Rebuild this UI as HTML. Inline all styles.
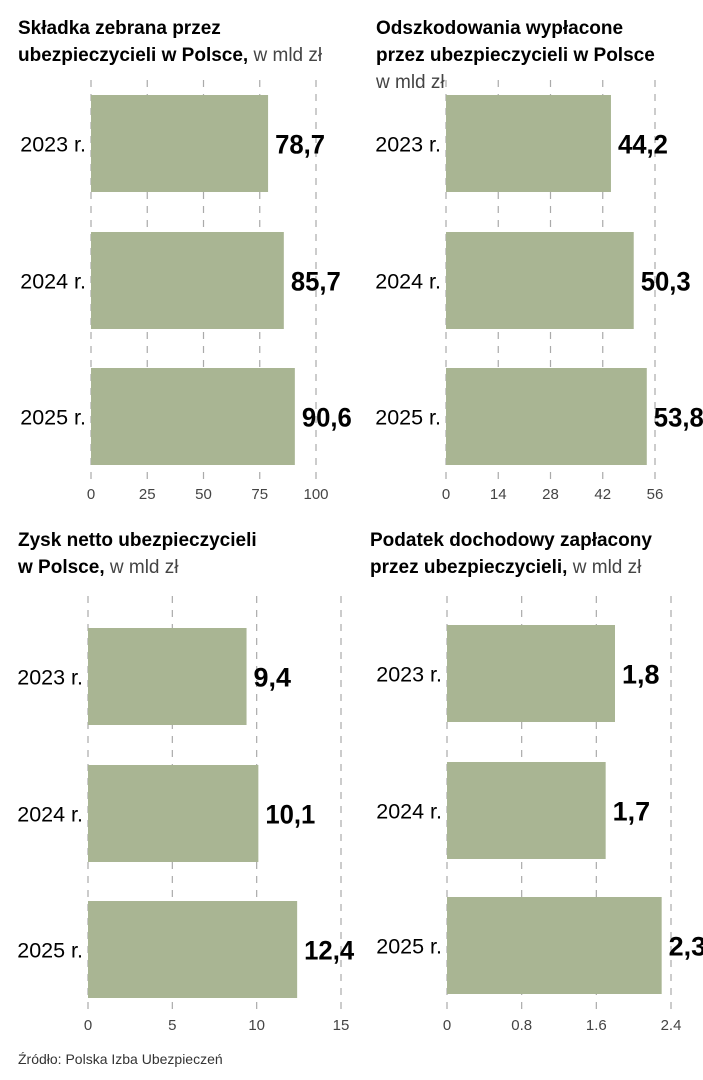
<!DOCTYPE html>
<html><head><meta charset="utf-8"><style>
body{margin:0;background:#fff;width:703px;height:1080px;overflow:hidden;font-family:"Liberation Sans",sans-serif;color:#1a1a1a}
svg{position:absolute;left:0;top:0}
.t{font-weight:bold;font-size:19px}
.tn{font-weight:normal;font-size:19px;fill:#444}
.lab{font-size:21.5px}
.val{font-family:"Liberation Sans Narrow","Liberation Sans",sans-serif;font-weight:bold;font-size:27px}
.tick{font-size:15px;fill:#444}
</style></head><body>
<svg id="c" width="703" height="1080">
<text class="t" x="18" y="34">Składka zebrana przez</text>
<text class="t" x="18" y="61">ubezpieczycieli w Polsce,<tspan class="tn"> w mld zł</tspan></text>
<text class="t" x="376" y="34">Odszkodowania wypłacone</text>
<text class="t" x="376" y="61">przez ubezpieczycieli w Polsce</text>
<text class="tn" x="376" y="88">w mld zł</text>
<text class="t" x="18" y="546">Zysk netto ubezpieczycieli</text>
<text class="t" x="18" y="573">w Polsce,<tspan class="tn"> w mld zł</tspan></text>
<text class="t" x="370" y="546">Podatek dochodowy zapłacony</text>
<text class="t" x="370" y="573">przez ubezpieczycieli,<tspan class="tn"> w mld zł</tspan></text>
<text x="18" y="1064" style="font-size:14px;fill:#333">Źródło: Polska Izba Ubezpieczeń</text>
</svg>
<script>
const categories=["2023 r.","2024 r.","2025 r."];
const premiumValues=[78.7,85.7,90.6];
const claimsValues=[44.2,50.3,53.8];
const profitValues=[9.4,10.1,12.4];
const taxValues=[1.8,1.7,2.3];
const premiumTicks=[0,25,50,75,100];
const claimsTicks=[0,14,28,42,56];
const profitTicks=[0,5,10,15];
const taxTicks=[0,0.8,1.6,2.4];
const NS="http://www.w3.org/2000/svg";
const svg=document.getElementById('c');
function mk(tag,attrs){const e=document.createElementNS(NS,tag);for(const k in attrs)e.setAttribute(k,attrs[k]);svg.appendChild(e);return e;}
function panel(key,vals,ticks,x0,x1,barTops,barH,gTop,gBot,tickY){
  const max=ticks[ticks.length-1];
  const sx=v=>x0+(x1-x0)*v/max;
  ticks.forEach((t,i)=>{
    const l=mk('line',{x1:sx(t),x2:sx(t),y1:gTop,y2:gBot,stroke:'#aaa','stroke-width':1.2,'stroke-dasharray':'7 7'});
    
    
    const tx=mk('text',{x:sx(t),y:tickY,'text-anchor':'middle',class:'tick'});
    tx.textContent=String(t);
    
    
  });
  vals.forEach((v,i)=>{
    const y=barTops[i];
    const r=mk('rect',{x:x0,y:y,width:sx(v)-x0,height:barH,fill:'#a9b593'});
    
    
    const lb=mk('text',{x:x0-5,y:y+barH/2+8,'text-anchor':'end',class:'lab'});
    lb.textContent=categories[i];
    
    
    const s=String(v).replace('.',',');
    const vl=mk('text',{x:sx(v)+7,y:y+barH/2+10,class:'val',textLength:s.length*12.5,lengthAdjust:'spacingAndGlyphs'});
    vl.textContent=s;
    
    
  });
}
panel('premium',premiumValues,premiumTicks,91,316,[95,232,368],97,80,480,499);
panel('claims',claimsValues,claimsTicks,446,655,[95,232,368],97,80,480,499);
panel('profit',profitValues,profitTicks,88,341,[628,765,901],97,596,1012,1030);
panel('tax',taxValues,taxTicks,447,671,[625,762,897],97,596,1012,1030);
</script>
</body></html>
